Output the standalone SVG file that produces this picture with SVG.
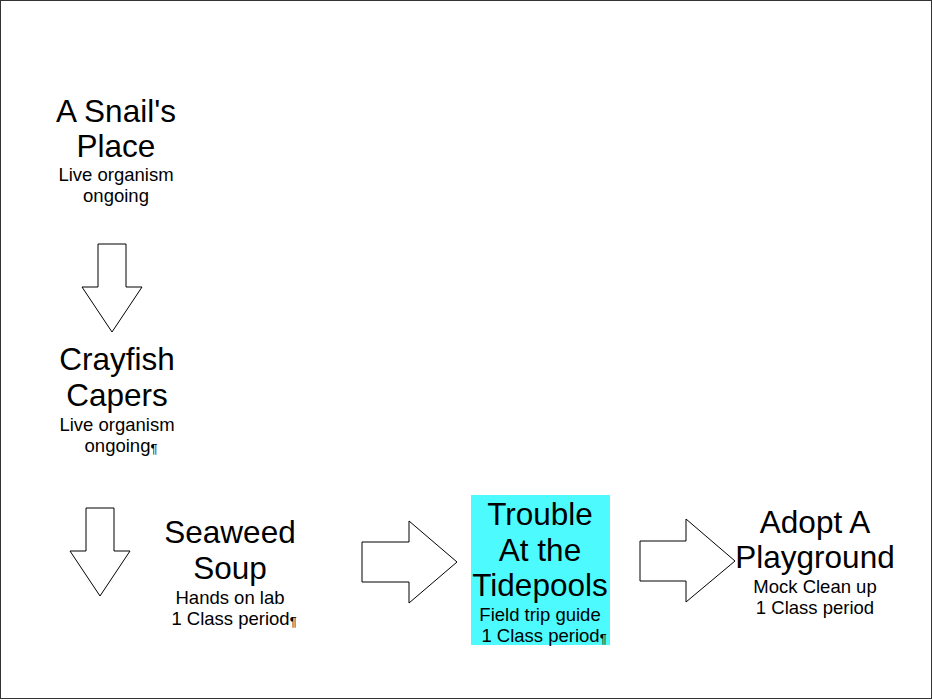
<svg xmlns="http://www.w3.org/2000/svg" width="933" height="700" viewBox="0 0 933 700">
<style>
.t{font-family:"Liberation Sans",Arial,sans-serif;font-size:31.5px;fill:#000;text-anchor:middle}
.s{font-family:"Liberation Sans",Arial,sans-serif;font-size:18.5px;fill:#000;text-anchor:middle}
.p{font-size:13px}
.arr{fill:#fff;stroke:#000;stroke-width:1}
</style>
<rect x="0.5" y="0.5" width="931" height="698" fill="#fff" stroke="#333" stroke-width="1"/>
<g id="connectors">
<polygon class="arr" points="98,244 126,244 126,287 142,287 112,332 82,287 98,287"/>
<polygon class="arr" points="86,508 114,508 114,551 130,551 100,596 70,551 86,551"/>
<polygon class="arr" points="362,542 409,542 409,521 457,562 409,603 409,582 362,582"/>
<polygon class="arr" points="640,541 686,541 686,519 735,561 686,602 686,581 640,581"/>
</g>
<g id="snail">
<text class="t" x="116" y="122">A Snail's</text>
<text class="t" x="116" y="157">Place</text>
<text class="s" x="116" y="181">Live organism</text>
<text class="s" x="116" y="202">ongoing</text>
</g>
<g id="crayfish">
<text class="t" x="117" y="370">Crayfish</text>
<text class="t" x="117" y="406">Capers</text>
<text class="s" x="117" y="431">Live organism</text>
<text class="s" x="121" y="452">ongoing<tspan class="p" dy="1">¶</tspan></text>
</g>
<g id="seaweed">
<text class="t" x="230" y="543">Seaweed</text>
<text class="t" x="230" y="579">Soup</text>
<text class="s" x="230" y="604">Hands on lab</text>
<text class="s" x="234" y="625">1 Class period<tspan class="p" dy="1">¶</tspan></text>
</g>
<g id="tidepools">
<rect x="471" y="495" width="139" height="150" fill="#4dfbff"/>
<text class="t" x="540" y="525">Trouble</text>
<text class="t" x="540" y="561">At the</text>
<text class="t" x="540" y="596">Tidepools</text>
<text class="s" x="540" y="621">Field trip guide</text>
<text class="s" x="544" y="642">1 Class period<tspan class="p" dy="1">¶</tspan></text>
</g>
<g id="playground">
<text class="t" x="815" y="533">Adopt A</text>
<text class="t" x="815" y="568">Playground</text>
<text class="s" x="815" y="593">Mock Clean up</text>
<text class="s" x="815" y="614">1 Class period</text>
</g>
</svg>
